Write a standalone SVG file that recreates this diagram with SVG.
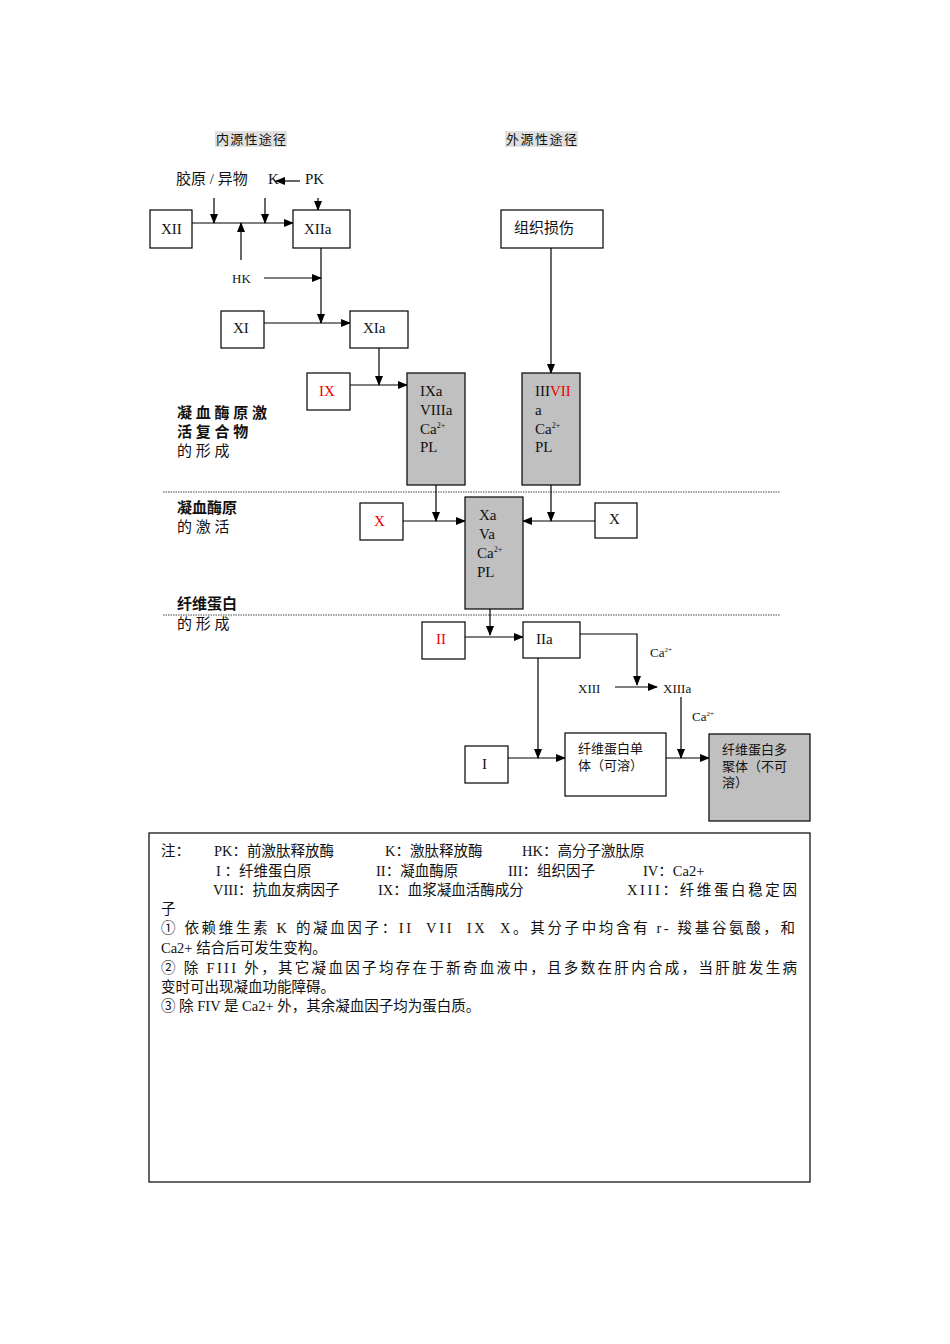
<svg xmlns="http://www.w3.org/2000/svg" width="950" height="1344" viewBox="0 0 950 1344">
<style>
text{font-family:"Liberation Serif","Noto Sans CJK SC",serif;fill:#111;font-size:15px}
.b{fill:#fff;stroke:#000;stroke-width:1.2}
.g{fill:#c0c0c0;stroke:#000;stroke-width:1.2}
.l{stroke:#000;stroke-width:1.2;fill:none}
.r{fill:#e00}
.h{font-size:13px}
.bold{font-weight:bold}
.d{stroke:#444;stroke-width:1;stroke-dasharray:1.5 1}
.n{font-size:14.5px}
</style>
<defs><marker id="a" markerWidth="10" markerHeight="8" refX="9" refY="4" orient="auto" markerUnits="userSpaceOnUse"><path d="M0,0L10,4L0,8z" fill="#000"/></marker></defs>
<rect x="215" y="131" width="72" height="16" fill="#e0e0e0"/>
<text x="216" y="144" class="h" textLength="70">内源性途径</text>
<rect x="505" y="131" width="73" height="16" fill="#e0e0e0"/>
<text x="506" y="144" class="h" textLength="71">外源性途径</text>
<text x="176" y="184">胶原 / 异物</text>
<text x="268" y="184">K</text>
<text x="305" y="184">PK</text>
<text x="232" y="283" class="h">HK</text>
<text x="177" y="418" class="bold">凝 血 酶 原 激</text>
<text x="177" y="437" class="bold">活 复 合 物</text>
<text x="177" y="456">的 形 成</text>
<text x="177" y="513" class="bold">凝血酶原</text>
<text x="177" y="532">的 激 活</text>
<text x="177" y="609" class="bold">纤维蛋白</text>
<text x="177" y="629">的 形 成</text>
<line class="d" x1="163" y1="492" x2="780" y2="492"/>
<line class="d" x1="163" y1="615" x2="780" y2="615"/>
<g id="connectors" class="l">
<line x1="300" y1="181" x2="276" y2="181" marker-end="url(#a)"/>
<line x1="192" y1="223" x2="293" y2="223" marker-end="url(#a)"/>
<line x1="214" y1="198" x2="214" y2="223" marker-end="url(#a)"/>
<line x1="265" y1="198" x2="265" y2="223" marker-end="url(#a)"/>
<line x1="318" y1="198" x2="318" y2="210" marker-end="url(#a)"/>
<line x1="241" y1="260" x2="241" y2="223" marker-end="url(#a)"/>
<line x1="264" y1="278" x2="321" y2="278" marker-end="url(#a)"/>
<line x1="321" y1="248" x2="321" y2="323" marker-end="url(#a)"/>
<line x1="264" y1="323" x2="350" y2="323" marker-end="url(#a)"/>
<line x1="379" y1="348" x2="379" y2="385" marker-end="url(#a)"/>
<line x1="350" y1="385" x2="407" y2="385" marker-end="url(#a)"/>
<line x1="551" y1="248" x2="551" y2="373" marker-end="url(#a)"/>
<line x1="436" y1="485" x2="436" y2="521" marker-end="url(#a)"/>
<line x1="551" y1="485" x2="551" y2="521" marker-end="url(#a)"/>
<line x1="403" y1="521" x2="465" y2="521" marker-end="url(#a)"/>
<line x1="595" y1="521" x2="523" y2="521" marker-end="url(#a)"/>
<line x1="490" y1="609" x2="490" y2="635" marker-end="url(#a)"/>
<line x1="465" y1="637" x2="523" y2="637" marker-end="url(#a)"/>
<polyline points="580,634 637,634 637,685" marker-end="url(#a)"/>
<line x1="615" y1="687" x2="657" y2="687" marker-end="url(#a)"/>
<line x1="681" y1="697" x2="681" y2="758" marker-end="url(#a)"/>
<line x1="538" y1="658" x2="538" y2="758" marker-end="url(#a)"/>
<line x1="508" y1="758" x2="565" y2="758" marker-end="url(#a)"/>
<line x1="666" y1="758" x2="709" y2="758" marker-end="url(#a)"/>
</g>
<g id="XII"><rect class="b" x="150" y="210" width="42" height="38"/><text x="161" y="234">XII</text></g>
<g id="XIIa"><rect class="b" x="293" y="210" width="57" height="38"/><text x="304" y="234">XIIa</text></g>
<g id="tissue"><rect class="b" x="501" y="210" width="102" height="38"/><text x="514" y="233">组织损伤</text></g>
<g id="XI"><rect class="b" x="221" y="311" width="43" height="37"/><text x="233" y="333">XI</text></g>
<g id="XIa"><rect class="b" x="350" y="311" width="58" height="37"/><text x="363" y="333">XIa</text></g>
<g id="IX"><rect class="b" x="307" y="373" width="43" height="37"/><text x="319" y="396" class="r">IX</text></g>
<g id="IXa"><rect class="g" x="407" y="373" width="58" height="112"/><text x="420" y="396">IXa</text><text x="420" y="415">VIIIa</text><text x="420" y="434">Ca<tspan font-size="8" dy="-6">2+</tspan></text><text x="420" y="452">PL</text></g>
<g id="VII"><rect class="g" x="522" y="373" width="58" height="112"/><text x="535" y="396">III<tspan class="r">VII</tspan></text><text x="535" y="415">a</text><text x="535" y="434">Ca<tspan font-size="8" dy="-6">2+</tspan></text><text x="535" y="452">PL</text></g>
<g id="Xred"><rect class="b" x="360" y="503" width="43" height="37"/><text x="374" y="526" class="r">X</text></g>
<g id="Xa"><rect class="g" x="465" y="497" width="58" height="112"/><text x="479" y="520">Xa</text><text x="479" y="539">Va</text><text x="477" y="558">Ca<tspan font-size="8" dy="-6">2+</tspan></text><text x="477" y="577">PL</text></g>
<g id="X"><rect class="b" x="595" y="503" width="42" height="35"/><text x="609" y="524">X</text></g>
<g id="II"><rect class="b" x="422" y="622" width="43" height="37"/><text x="436" y="644" class="r">II</text></g>
<g id="IIa"><rect class="b" x="523" y="622" width="57" height="36"/><text x="536" y="644">IIa</text></g>
<text x="650" y="657" class="h">Ca<tspan font-size="7" dy="-5">2+</tspan></text>
<text x="578" y="693" class="h">XIII</text>
<text x="663" y="693" class="h">XIIIa</text>
<text x="692" y="721" class="h">Ca<tspan font-size="7" dy="-5">2+</tspan></text>
<g id="I"><rect class="b" x="465" y="746" width="43" height="37"/><text x="482" y="769">I</text></g>
<g id="monomer"><rect class="b" x="565" y="733" width="101" height="63"/><text x="578" y="753" class="h">纤维蛋白单</text><text x="578" y="770" class="h">体（可溶）</text></g>
<g id="polymer"><rect class="g" x="709" y="734" width="101" height="87"/><text x="722" y="754" class="h">纤维蛋白多</text><text x="722" y="771" class="h">聚体（不可</text><text x="722" y="787" class="h">溶）</text></g>
<g id="notes"><rect class="b" x="149" y="833" width="661" height="349"/>
<text x="161" y="856" class="n">注：</text>
<text x="214" y="856" class="n">PK：前激肽释放酶</text>
<text x="385" y="856" class="n">K：激肽释放酶</text>
<text x="522" y="856" class="n">HK：高分子激肽原</text>
<text x="216" y="876" class="n">I ：纤维蛋白原</text>
<text x="376" y="876" class="n">II：凝血酶原</text>
<text x="508" y="876" class="n">III：组织因子</text>
<text x="643" y="876" class="n">IV：Ca2+</text>
<text x="213" y="895" class="n">VIII：抗血友病因子</text>
<text x="378" y="895" class="n">IX：血浆凝血活酶成分</text>
<text x="627" y="895" class="n" textLength="170">XIII：纤维蛋白稳定因</text>
<text x="161" y="914" class="n">子</text>
<text x="161" y="933" class="n" textLength="634" xml:space="preserve">① 依赖维生素 K 的凝血因子：II  VII  IX  X。其分子中均含有 r- 羧基谷氨酸，和</text>
<text x="161" y="953" class="n">Ca2+ 结合后可发生变构。</text>
<text x="161" y="973" class="n" textLength="636">② 除 FIII 外，其它凝血因子均存在于新奇血液中，且多数在肝内合成，当肝脏发生病</text>
<text x="161" y="992" class="n">变时可出现凝血功能障碍。</text>
<text x="161" y="1011" class="n">③ 除 FIV 是 Ca2+ 外，其余凝血因子均为蛋白质。</text>
</g>
</svg>
